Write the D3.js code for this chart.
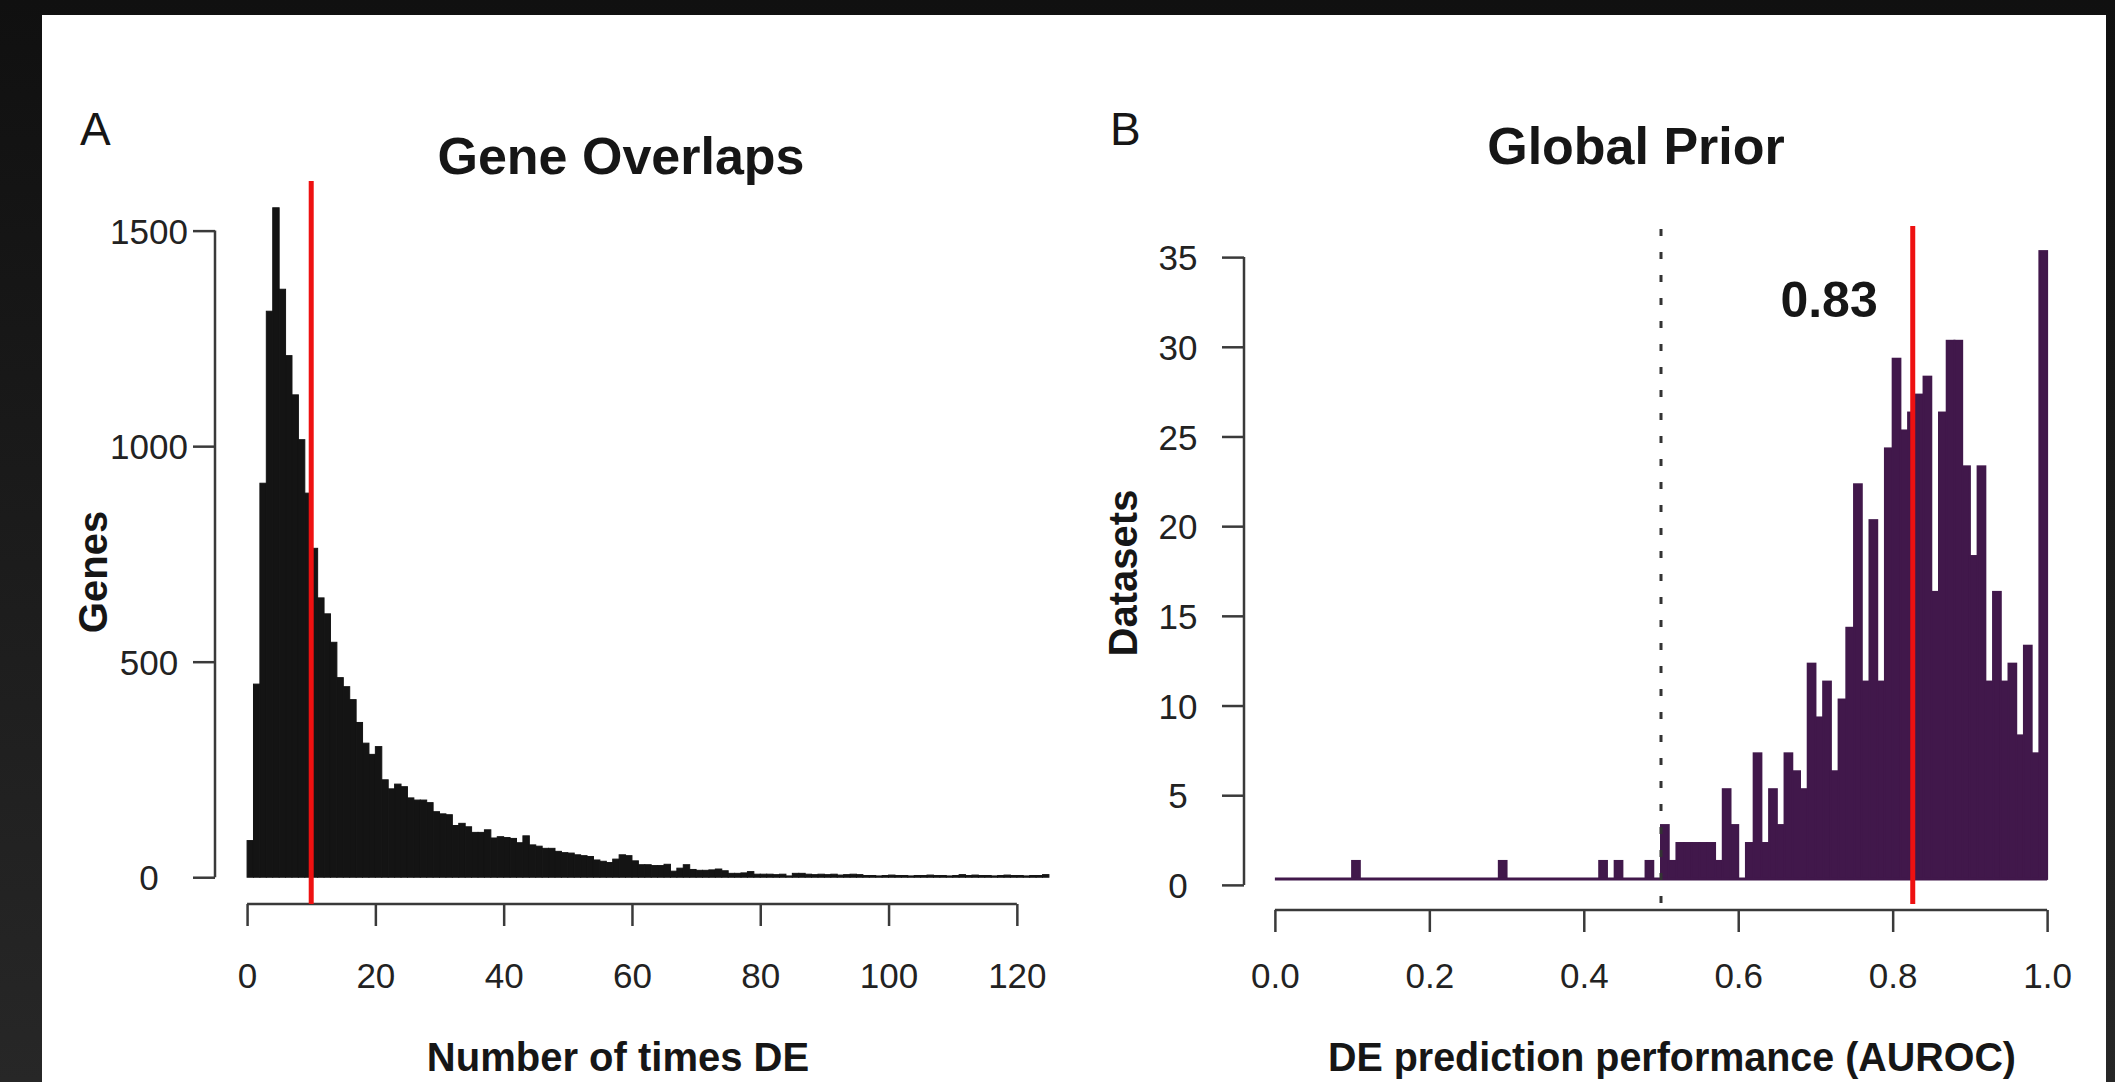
<!DOCTYPE html>
<html>
<head>
<meta charset="utf-8">
<script src="https://cdn.jsdelivr.net/npm/d3@7"></script>
<style>
  html, body { margin: 0; padding: 0; }
  body {
    width: 2115px; height: 1082px; overflow: hidden;
    background: linear-gradient(#101010, #272727);
  }
  svg { display: block; }
  text { font-family: "Liberation Sans", Arial, Helvetica, sans-serif; }
</style>
</head>
<body>
<svg id="fig" width="2115" height="1082"></svg>
<script>
// ---- Panel A: number of times each gene is differentially expressed (bins of width 1, starting at 0)
const geneBinWidth = 1;
const geneCounts = [
  85, 448, 914, 1313, 1553, 1364, 1210, 1119, 1015, 891,
  763, 648, 611, 545, 463, 442, 412, 359, 311, 285,
  303, 226, 205, 216, 210, 184, 179, 179, 173, 152,
  147, 145, 120, 125, 117, 104, 104, 110, 91, 94,
  92, 90, 80, 96, 75, 72, 67, 67, 60, 57,
  56, 52, 50, 48, 40, 37, 34, 42, 52, 50,
  38, 29, 29, 27, 27, 30, 14, 21, 29, 18,
  16, 16, 17, 19, 15, 9, 9, 10, 13, 7,
  7, 7, 6, 7, 3, 9, 9, 7, 6, 7,
  6, 7, 5, 6, 7, 6, 4, 4, 3, 4,
  5, 4, 4, 3, 4, 4, 5, 4, 4, 3,
  4, 6, 4, 5, 4, 4, 3, 4, 5, 4,
  4, 3, 4, 4, 6
];
const geneMedian = 10;
const geneXTicks = [0, 20, 40, 60, 80, 100, 120];
const geneYTicks = [0, 500, 1000, 1500];

// ---- Panel B: AUROC of the global prior across datasets (bins of width 0.01 on [0, 1])
const aurocBinWidth = 0.01;
const aurocCounts = [
  0, 0, 0, 0, 0, 0, 0, 0, 0, 0,
  1, 0, 0, 0, 0, 0, 0, 0, 0, 0,
  0, 0, 0, 0, 0, 0, 0, 0, 0, 1,
  0, 0, 0, 0, 0, 0, 0, 0, 0, 0,
  0, 0, 1, 0, 1, 0, 0, 0, 1, 0,
  3, 1, 2, 2, 2, 2, 2, 1, 5, 3,
  0, 2, 7, 2, 5, 3, 7, 6, 5, 12,
  9, 11, 6, 10, 14, 22, 11, 20, 11, 24,
  29, 25, 26, 27, 28, 16, 26, 30, 30, 23,
  18, 23, 11, 16, 11, 12, 8, 13, 7, 35
];
const aurocMean = 0.826;
const aurocChance = 0.5;
const aurocXTicks = [0, 0.2, 0.4, 0.6, 0.8, 1.0];
const aurocYTicks = [0, 5, 10, 15, 20, 25, 30, 35];

const svg = d3.select("#fig");

// white figure sheet
svg.append("rect")
  .attr("x", 42).attr("y", 15)
  .attr("width", 2064).attr("height", 1067)
  .attr("fill", "#ffffff");

const AXIS_COLOR = "#3a3a3a";
const TEXT_COLOR = "#161616";
const TICK_LEN = 22;

// R-style expanded scale: 4% padding on both ends of the data range
function expanded(lo, hi) {
  const pad = 0.04 * (hi - lo);
  return [lo - pad, hi + pad];
}

function styleAxis(g) {
  g.attr("font-size", null).attr("font-family", null);
  g.select(".domain").remove();
  g.selectAll(".tick line").attr("stroke", AXIS_COLOR).attr("stroke-width", 2.5);
  g.selectAll(".tick text")
    .attr("fill", "#222")
    .style("font-size", "35px");
}

function drawPanel(p) {
  const n = p.counts.length;
  const x = d3.scaleLinear()
    .domain(expanded(0, n * p.binWidth))
    .range([p.left, p.right]);
  const yMax = d3.max(p.counts);
  const y = d3.scaleLinear()
    .domain(expanded(0, yMax))
    .range([p.bottom, p.top]);

  const bins = p.counts.map((c, i) => ({ x0: i * p.binWidth, x1: (i + 1) * p.binWidth, c }));
  const g = svg.append("g");

  // zero-height bins show as a line along the baseline
  if (p.baseline) {
    g.append("line")
      .attr("x1", x(0)).attr("x2", x(n * p.binWidth))
      .attr("y1", y(0)).attr("y2", y(0))
      .attr("stroke", p.fill).attr("stroke-width", 3);
  }

  g.selectAll("rect.bar")
    .data(bins.filter(d => d.c > 0))
    .join("rect")
    .attr("class", "bar")
    .attr("x", d => x(d.x0))
    .attr("width", d => x(d.x1) - x(d.x0))
    .attr("y", d => y(d.c))
    .attr("height", d => y(0) - y(d.c))
    .attr("fill", p.fill)
    .attr("stroke", p.fill)
    .attr("stroke-width", p.strokeWidth);

  // axes sit slightly below the plotting area in panel B
  const shift = p.axisShift || 0;

  // x axis (line spans first to last tick)
  const gx = svg.append("g")
    .attr("transform", `translate(0,${p.bottom + shift})`)
    .call(d3.axisBottom(x).tickValues(p.xTicks).tickSize(TICK_LEN).tickSizeOuter(0).tickFormat(p.xFormat))
    .call(styleAxis);
  gx.selectAll(".tick text").attr("y", 84 - shift).attr("dy", null);
  gx.append("line")
    .attr("x1", x(p.xTicks[0])).attr("x2", x(p.xTicks[p.xTicks.length - 1]))
    .attr("stroke", AXIS_COLOR).attr("stroke-width", 2.5);

  // y axis (labels horizontal, centred left of the ticks)
  const gy = svg.append("g")
    .attr("transform", `translate(${p.left},${shift})`)
    .call(d3.axisLeft(y).tickValues(p.yTicks).tickSize(TICK_LEN).tickSizeOuter(0).tickFormat(d3.format("d")))
    .call(styleAxis);
  gy.selectAll(".tick text").attr("x", -66).attr("text-anchor", "middle").attr("dy", "0.36em");
  gy.append("line")
    .attr("y1", y(p.yTicks[0])).attr("y2", y(p.yTicks[p.yTicks.length - 1]))
    .attr("stroke", AXIS_COLOR).attr("stroke-width", 2.5);

  return { x, y };
}

// ---------- Panel A ----------
const A = drawPanel({
  left: 215, right: 1081, top: 181, bottom: 904,
  counts: geneCounts, binWidth: geneBinWidth,
  fill: "#141414", strokeWidth: 1,
  xTicks: geneXTicks, yTicks: geneYTicks,
  xFormat: d3.format("d"), baseline: false
});

svg.append("line")
  .attr("x1", A.x(geneMedian)).attr("x2", A.x(geneMedian))
  .attr("y1", 181).attr("y2", 904)
  .attr("stroke", "#ee1111").attr("stroke-width", 5);

svg.append("text").attr("x", 80).attr("y", 145)
  .attr("fill", TEXT_COLOR).style("font-size", "46px").text("A");
svg.append("text").attr("x", 621).attr("y", 174).attr("text-anchor", "middle")
  .attr("fill", TEXT_COLOR).style("font-size", "52px").style("font-weight", "bold")
  .text("Gene Overlaps");
svg.append("text").attr("x", 618).attr("y", 1071).attr("text-anchor", "middle")
  .attr("fill", TEXT_COLOR).style("font-size", "40px").style("font-weight", "bold")
  .text("Number of times DE");
svg.append("text").attr("transform", "translate(107,572) rotate(-90)").attr("text-anchor", "middle")
  .attr("fill", TEXT_COLOR).style("font-size", "40px").style("font-weight", "bold")
  .text("Genes");

// ---------- Panel B ----------
const B = drawPanel({
  left: 1244, right: 2078, top: 226, bottom: 904,
  counts: aurocCounts, binWidth: aurocBinWidth,
  fill: "#41184b", strokeWidth: 2,
  xTicks: aurocXTicks, yTicks: aurocYTicks,
  xFormat: d3.format(".1f"), baseline: true, axisShift: 6
});

// chance level
svg.append("line")
  .attr("x1", B.x(aurocChance)).attr("x2", B.x(aurocChance))
  .attr("y1", 229).attr("y2", 906)
  .attr("stroke", "#333").attr("stroke-width", 3)
  .attr("stroke-dasharray", "7,16");

// mean performance
svg.append("line")
  .attr("x1", B.x(aurocMean)).attr("x2", B.x(aurocMean))
  .attr("y1", 226).attr("y2", 904)
  .attr("stroke", "#ee1111").attr("stroke-width", 5);
svg.append("text")
  .attr("x", B.x(aurocMean) - 35).attr("y", 317).attr("text-anchor", "end")
  .attr("fill", TEXT_COLOR).style("font-size", "50px").style("font-weight", "bold")
  .text(d3.format(".2f")(aurocMean));

svg.append("text").attr("x", 1110).attr("y", 145)
  .attr("fill", TEXT_COLOR).style("font-size", "46px").text("B");
svg.append("text").attr("x", 1636).attr("y", 164).attr("text-anchor", "middle")
  .attr("fill", TEXT_COLOR).style("font-size", "52px").style("font-weight", "bold")
  .text("Global Prior");
svg.append("text").attr("x", 1672).attr("y", 1071).attr("text-anchor", "middle")
  .attr("fill", TEXT_COLOR).style("font-size", "41px").style("font-weight", "bold")
  .attr("textLength", 688).attr("lengthAdjust", "spacingAndGlyphs")
  .text("DE prediction performance (AUROC)");
svg.append("text").attr("transform", "translate(1137,573) rotate(-90)").attr("text-anchor", "middle")
  .attr("fill", TEXT_COLOR).style("font-size", "40px").style("font-weight", "bold")
  .text("Datasets");
</script>
</body>
</html>
